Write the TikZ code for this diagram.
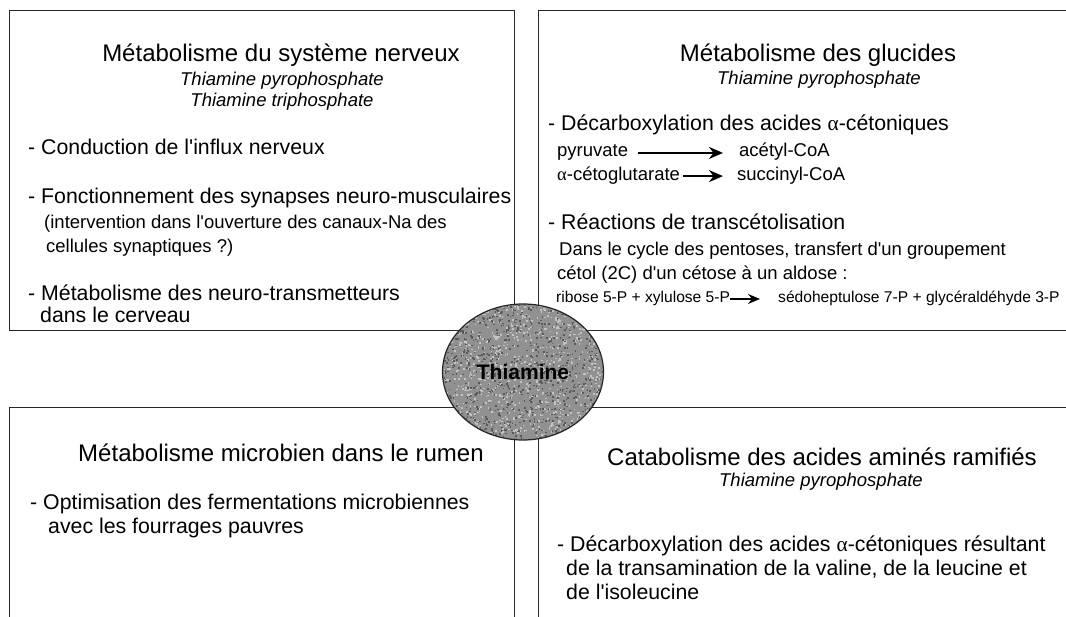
\documentclass[tikz,border=0pt]{standalone}
\usepackage{fontspec}
\setmainfont{Liberation Sans}
\newfontfamily\grk{Liberation Serif}
\usetikzlibrary{arrows.meta,shapes.geometric}
\newcommand{\alp}{{\grk α}}
\newcommand{\q}{\textquotesingle}
\definecolor{ballgray}{RGB}{145,145,145}
\definecolor{balllight}{RGB}{195,195,195}
\definecolor{balldark}{RGB}{90,90,90}
\begin{document}
\begin{tikzpicture}[x=1pt,y=-1pt,
  box/.style={draw=black!85, line width=1pt},
  ttl/.style={font=\fontsize{24}{28}\selectfont, anchor=base, inner sep=0pt},
  sub/.style={font=\fontsize{18.5}{22}\selectfont\itshape, anchor=base, inner sep=0pt},
  body/.style={font=\fontsize{21.3}{25}\selectfont, anchor=base west, inner sep=0pt},
  small/.style={font=\fontsize{18.5}{22}\selectfont, anchor=base west, inner sep=0pt},
  tiny/.style={font=\fontsize{15.6}{18}\selectfont, anchor=base west, inner sep=0pt},
  rarrow/.style={line width=1.8pt, -{Stealth[length=14pt,width=12pt,inset=4.5pt]}},
  sarrow/.style={line width=1.5pt, -{Stealth[length=12pt,width=10pt,inset=4pt]}},
]
\useasboundingbox[fill=white] (0,0) rectangle (1066,617);
% boxes
\draw[box] (9,11) rectangle (514,331);
\draw[box] (1066,11) -- (538,11) -- (538,331) -- (1066,331);
\draw[box] (9,617) -- (9,408) -- (514,408) -- (514,617);
\draw[box] (538,617) -- (538,408) -- (1066,408);
% top left
\node[ttl] (tl0) at (281,62) {Métabolisme du système nerveux};
\node[sub] (tl1) at (282,86) {Thiamine pyrophosphate};
\node[sub] (tl2) at (282,107) {Thiamine triphosphate};
\node[body] (tl3) at (28,155) {- Conduction de l\q influx nerveux};
\node[body] (tl4) at (28,204) {- Fonctionnement des synapses neuro-musculaires};
\node[small] (tl5) at (44,229) {(intervention dans l\q ouverture des canaux-Na des};
\node[small] (tl6) at (46,253) {cellules synaptiques ?)};
\node[body] (tl7) at (28,301) {- Métabolisme des neuro-transmetteurs};
\node[body] (tl8) at (40,323) {dans le cerveau};
% top right
\node[ttl] (tr0) at (818,62) {Métabolisme des glucides};
\node[sub] (tr1) at (819,85) {Thiamine pyrophosphate};
\node[body] (tr2) at (548,131) {- Décarboxylation des acides \alp-cétoniques};
\node[small] (pyr) at (557,157) {pyruvate};
\node[small] (acc) at (739,157) {acétyl-CoA};
\node[small] (akg) at (557,181) {\alp-cétoglutarate};
\node[small] (suc) at (737,181) {succinyl-CoA};
\draw[rarrow, shorten <=10pt, shorten >=16pt] (pyr.east) -- (pyr.east -| acc.west);
\draw[rarrow, shorten <=3pt, shorten >=14pt] (akg.east) -- (akg.east -| suc.west);
\node[body] (tr3) at (548,230) {- Réactions de transcétolisation};
\node[small] (tr4) at (559,256) {Dans le cycle des pentoses, transfert d\q un groupement};
\node[small] (tr5) at (557,280) {cétol (2C) d\q un cétose à un aldose :};
\node[tiny] (rib) at (556,303) {ribose 5-P + xylulose 5-P};
\node[tiny] (sed) at (778,303) {sédoheptulose 7-P + glycéraldéhyde 3-P};
\draw[sarrow, shorten <=0pt, shorten >=18pt] (rib.east) -- (rib.east -| sed.west);
% bottom left
\node[ttl] (bl0) at (281,462) {Métabolisme microbien dans le rumen};
\node[body] (bl1) at (30,509) {- Optimisation des fermentations microbiennes};
\node[body] (bl2) at (48,533) {avec les fourrages pauvres};
% bottom right
\node[ttl] (br0) at (822,465) {Catabolisme des acides aminés ramifiés};
\node[sub] (br1) at (821,486) {Thiamine pyrophosphate};
\node[body] (br2) at (557,551) {- Décarboxylation des acides \alp-cétoniques résultant};
\node[body] (br3) at (566,575) {de la transamination de la valine, de la leucine et};
\node[body] (br4) at (566,599) {de l\q isoleucine};
% central ball
\node[ellipse, fill=ballgray, minimum width=161pt, minimum height=136pt, inner sep=0pt] (th) at (523,372) {};
\begin{scope}
  \clip (th.center) ellipse [x radius=80pt, y radius=67.5pt];
  \pgfmathsetseed{7}
  \foreach \i in {1,...,900} {
    \fill[balllight] ({443+161*rnd},{304+136*rnd}) rectangle ++(1.6,1.6);
    \fill[balldark] ({443+161*rnd},{304+136*rnd}) rectangle ++(1.6,1.6);
  }
\end{scope}
\draw[black!85, line width=1.2pt] (th.center) ellipse [x radius=80.5pt, y radius=68pt];
\node[font=\fontsize{21}{24}\selectfont\bfseries, inner sep=0pt] (thl) at (th.center) {Thiamine};
\end{tikzpicture}
\end{document}
